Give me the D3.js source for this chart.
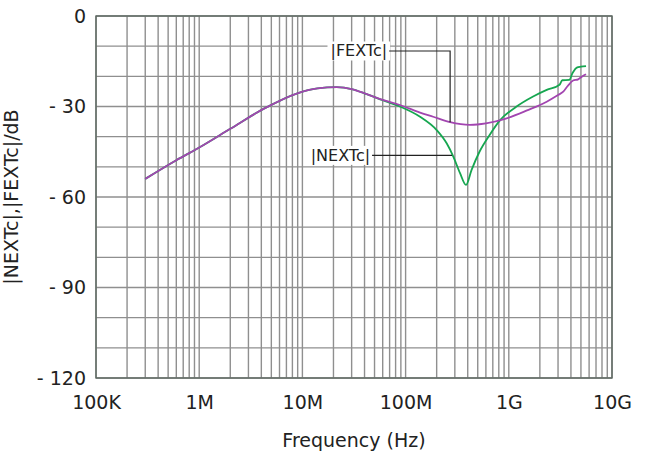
<!DOCTYPE html>
<html>
<head>
<meta charset="utf-8">
<script src="https://cdn.jsdelivr.net/npm/d3@7"></script>
<style>
  html, body { margin: 0; padding: 0; background: #fff; }
  svg { display: block; font-family: "DejaVu Sans", sans-serif; }
</style>
</head>
<body>
<svg id="chart" width="649" height="454"></svg>
<script>
// Crosstalk magnitude vs. frequency
const xTickValues = [1e5, 1e6, 1e7, 1e8, 1e9, 1e10];
const xTickLabels = ["100K", "1M", "10M", "100M", "1G", "10G"];
const yTickValues = [0, -30, -60, -90, -120];

// |NEXTc| (near-end crosstalk), dB
const nextFreq = [3e5, 6e5, 1e6, 2e6, 4.2e6, 8.8e6, 1.4e7, 2.15e7, 3e7, 4.2e7, 6e7, 8.8e7,
  1.38e8, 2e8, 2.5e8, 2.9e8, 3.37e8, 3.85e8, 4.36e8, 5.2e8, 6.5e8, 8.2e8, 1.18e9, 1.72e9,
  2.33e9, 3.1e9, 3.3e9, 3.85e9, 4.16e9, 4.56e9, 5.0e9, 5.6e9];
const nextDb = [-54, -47.8, -43.6, -37.4, -30.8, -25.7, -24.0, -23.6, -24.2, -25.9, -27.9, -30.0,
  -33.4, -37.8, -42.2, -46.6, -52.1, -56.0, -51.0, -45.0, -39.5, -34.6, -30.1, -26.7,
  -24.5, -22.8, -21.3, -21.2, -18.8, -17.1, -16.8, -16.6];

// |FEXTc| (far-end crosstalk), dB
const fextFreq = [3e5, 6e5, 1e6, 2e6, 4.2e6, 8.8e6, 1.4e7, 2.15e7, 3e7, 4.2e7, 6e7, 8.8e7,
  1.38e8, 1.85e8, 2.7e8, 4.2e8, 6e8, 9.2e8, 1.5e9, 2.33e9, 3.0e9, 3.37e9, 3.72e9, 4.2e9,
  4.7e9, 5.1e9, 5.6e9];
const fextDb = [-54, -47.8, -43.6, -37.4, -30.8, -25.7, -24.0, -23.6, -24.2, -25.9, -27.8, -29.5,
  -32.0, -33.4, -35.2, -36.1, -35.6, -34.1, -31.3, -28.4, -26.2, -25.1, -23.2, -21.4,
  -21.0, -20.1, -19.3];

const svg = d3.select("#chart");
const margin = { left: 96, top: 16, right: 37, bottom: 76 };
const W = 649, H = 454;
const innerW = W - margin.left - margin.right;
const innerH = H - margin.top - margin.bottom;

const x = d3.scaleLog().domain([1e5, 1e10]).range([margin.left, margin.left + innerW]);
const y = d3.scaleLinear().domain([-120, 0]).range([margin.top + innerH, margin.top]);

// grid: log-spaced verticals, 10 dB horizontals
const xGrid = [];
for (let e = 5; e < 10; e++) for (let k = 1; k <= 9; k++) xGrid.push(k * Math.pow(10, e));
xGrid.push(1e10);
const yGrid = d3.range(-120, 1, 10);

const grid = svg.append("g").attr("stroke", "#8f8f8f").attr("stroke-width", 1.4);
grid.selectAll("line.v").data(xGrid).join("line")
  .attr("x1", d => x(d)).attr("x2", d => x(d))
  .attr("y1", y(0)).attr("y2", y(-120));
grid.selectAll("line.h").data(yGrid).join("line")
  .attr("y1", d => y(d)).attr("y2", d => y(d))
  .attr("x1", x(1e5)).attr("x2", x(1e10));

// frame
svg.append("rect")
  .attr("x", x(1e5)).attr("y", y(0))
  .attr("width", x(1e10) - x(1e5)).attr("height", y(-120) - y(0))
  .attr("fill", "none").attr("stroke", "#5d6962").attr("stroke-width", 1.4);

// axes (labels only)
const xAxis = d3.axisBottom(x).tickValues(xTickValues)
  .tickFormat((d, i) => xTickLabels[i]).tickSize(0).tickPadding(0);
const gx = svg.append("g").attr("transform", `translate(0,${y(-120)})`).call(xAxis);
gx.select(".domain").remove();
gx.selectAll("text").attr("font-size", 19).attr("fill", "#222")
  .attr("font-family", "DejaVu Sans").attr("dy", "1.65em");

const yAxis = d3.axisLeft(y).tickValues(yTickValues)
  .tickFormat(d => d === 0 ? "0" : "- " + Math.abs(d)).tickSize(0).tickPadding(10);
const gy = svg.append("g").attr("transform", `translate(${x(1e5)},0)`).call(yAxis);
gy.select(".domain").remove();
gy.selectAll("text").attr("font-size", 19).attr("fill", "#222")
  .attr("font-family", "DejaVu Sans");

// axis titles
svg.append("text").attr("x", (x(1e5) + x(1e10)) / 2).attr("y", 447)
  .attr("text-anchor", "middle").attr("font-size", 19).attr("fill", "#222")
  .text("Frequency (Hz)");
svg.append("text")
  .attr("transform", `translate(18,${(y(0) + y(-120)) / 2}) rotate(-90)`)
  .attr("text-anchor", "middle").attr("font-size", 19).attr("fill", "#222")
  .text("|NEXTc|,|FEXTc|/dB");

// curves
const line = (fs, vs) => d3.line().curve(d3.curveMonotoneX)
  .x((d, i) => x(fs[i])).y(d => y(d))(vs);

svg.append("path").attr("d", line(nextFreq, nextDb))
  .attr("fill", "none").attr("stroke", "#16a650").attr("stroke-width", 1.8);
svg.append("path").attr("d", line(fextFreq, fextDb))
  .attr("fill", "none").attr("stroke", "#a245b0").attr("stroke-width", 1.8);

// callouts
function callout(text, anchorF, anchorDb, labelDb, gap, drop) {
  const ax = x(anchorF), ay = y(anchorDb), ly = y(labelDb);
  const g = svg.append("g");
  const t = g.append("text").attr("font-size", 16).attr("fill", "#222")
    .attr("text-anchor", "end").attr("dominant-baseline", "central")
    .attr("x", ax - gap).attr("y", ly).text(text);
  const bb = t.node().getBBox();
  g.insert("rect", "text").attr("x", bb.x - 3).attr("y", bb.y)
    .attr("width", bb.width + 6).attr("height", bb.height).attr("fill", "#fff");
  const pts = drop ? [[ax - gap + 2, ly], [ax, ly], [ax, ay]] : [[ax - gap + 2, ly], [ax, ly]];
  g.append("path").attr("d", d3.line()(pts))
    .attr("fill", "none").attr("stroke", "#222").attr("stroke-width", 1.2);
}
callout("|FEXTc|", 2.7e8, -35.2, -11.6, 63, true);
callout("|NEXTc|", 2.82e8, -45.4, -46.2, 82, false);
</script>
</body>
</html>
